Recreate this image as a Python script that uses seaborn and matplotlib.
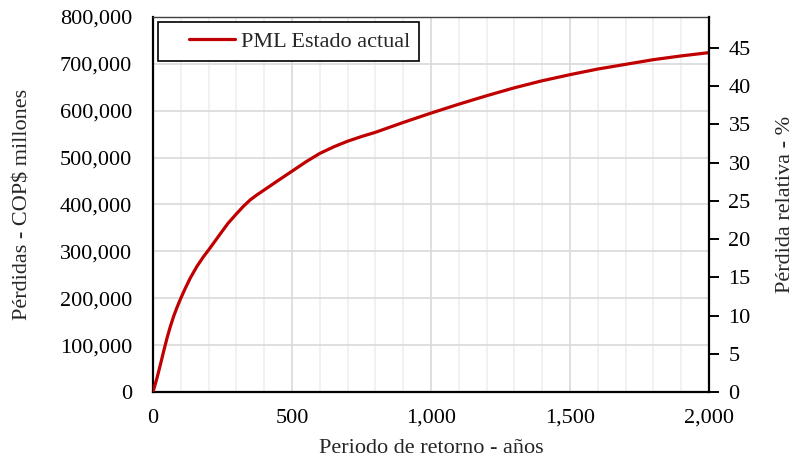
import numpy as np
import pandas as pd
import matplotlib
matplotlib.use("Agg")
import matplotlib.pyplot as plt
import seaborn as sns
from matplotlib.ticker import FuncFormatter, MultipleLocator
from matplotlib.legend_handler import HandlerLine2D

# Data
periodo = [0, 14, 26, 38, 50, 62, 74, 86, 100, 116, 134, 158, 182, 200, 222,
           244, 270, 300, 325, 350, 375, 400, 447, 500, 550, 600, 650, 700,
           750, 800, 900, 1000, 1100, 1200, 1300, 1400, 1500, 1600, 1700,
           1800, 1900, 2000]
perdida = [0, 29000, 57000, 86000, 114000, 139000, 161000, 180000, 200000,
           221000, 243000, 268000, 289000, 303000, 321000, 339000, 360000,
           380000, 396000, 410000, 421000, 431000, 450000, 471000, 491000,
           509000, 523000, 535000, 545000, 554000, 575000, 595000, 614000,
           632000, 649000, 664000, 677000, 689000, 699000, 709000, 717000,
           724000]
valor_expuesto = 1630700.0  # COP$ millones, links left axis to right % axis
serie = "PML Estado actual"

df = pd.DataFrame({"Periodo": periodo, "Perdida": perdida, "Serie": serie})

sns.set_style("white")
plt.rcParams["font.family"] = ["Liberation Serif", "DejaVu Serif"]

FS = 16
fig = plt.figure(figsize=(7.94, 4.61), dpi=100)
ax = fig.add_axes([153/794, 1-392/461, (709-153)/794, (392-17)/461])

sns.lineplot(data=df, x="Periodo", y="Perdida", hue="Serie",
             palette=["#C00000"], linewidth=2.3, ax=ax, zorder=5)

ax.set_xlim(0, 2000)
ax.set_ylim(0, 800000)
ax.xaxis.set_major_locator(MultipleLocator(500))
ax.xaxis.set_minor_locator(MultipleLocator(100))
ax.yaxis.set_major_locator(MultipleLocator(100000))
fmt = FuncFormatter(lambda v, p: f"{int(round(v)):,}")
ax.xaxis.set_major_formatter(fmt)
ax.yaxis.set_major_formatter(fmt)

ax.grid(which="minor", axis="x", color="#efefef", linewidth=1.2, zorder=0)
ax.grid(which="major", axis="x", color="#d9d9d9", linewidth=1.2, zorder=0)
ax.grid(which="major", axis="y", color="#d9d9d9", linewidth=1.2, zorder=0)
ax.set_axisbelow(True)

ax.tick_params(axis="both", which="both", length=0, labelsize=FS, colors="black")
ax.tick_params(axis="y", pad=15)
ax.tick_params(axis="x", pad=12)

for s in ["left", "bottom"]:
    ax.spines[s].set_color("black")
    ax.spines[s].set_linewidth(1.6)
ax.spines["top"].set_color("#404040")
ax.spines["top"].set_linewidth(1.0)
ax.spines["right"].set_visible(False)

ax.set_xlabel("Periodo de retorno - años", fontsize=FS, labelpad=8)
ax.set_ylabel("Pérdidas - COP$ millones", fontsize=FS, labelpad=20)

ax2 = ax.twinx()
ax2.set_ylim(0, 800000 / valor_expuesto * 100)
ax2.set_yticks(np.arange(0, 46, 5))
ax2.tick_params(axis="y", direction="out", length=7, width=1.4, pad=7,
                labelsize=FS, colors="black")
for s in ["left", "top", "bottom"]:
    ax2.spines[s].set_visible(False)
ax2.spines["right"].set_visible(True)
ax2.spines["right"].set_color("black")
ax2.spines["right"].set_linewidth(1.6)
ax2.grid(False)
ax2.set_ylabel("Pérdida relativa - %", fontsize=FS, labelpad=18)

h, l = ax.get_legend_handles_labels()
leg = ax.legend(h, l, loc="upper left", title=None, fontsize=FS, frameon=True,
                fancybox=False, edgecolor="black", framealpha=1,
                handlelength=3.05, handletextpad=0.25, borderpad=0.42,
                bbox_to_anchor=(0.0, 1.0), borderaxespad=0.22,
                handler_map={h[0]: HandlerLine2D(xpad=1.0)})
leg.get_frame().set_linewidth(1.2)

fig.savefig("out.png", dpi=100)
